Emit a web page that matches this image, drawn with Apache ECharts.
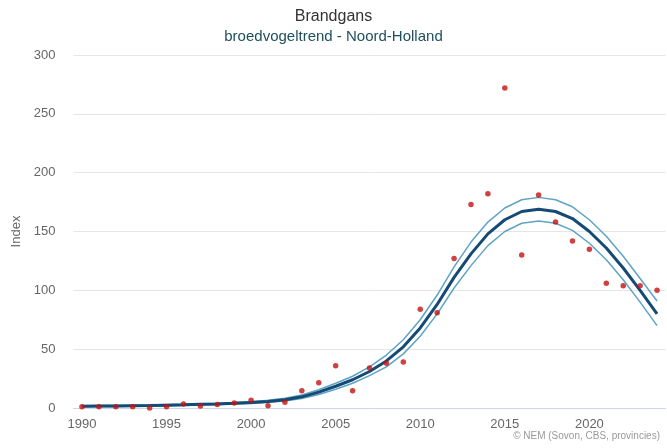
<!DOCTYPE html>
<html>
<head>
<meta charset="utf-8">
<title>Brandgans</title>
<script src="https://cdn.jsdelivr.net/npm/echarts@6/dist/echarts.min.js"></script>
<style>
  html, body { margin: 0; padding: 0; background: #fff; }
  #chart { width: 667px; height: 448px; }
</style>
</head>
<body>
<div id="chart"></div>
<script>
var years = [];
for (var y = 1990; y <= 2024; y++) years.push(String(y));

// jaarlijkse indexen (punten)
var indexValues = [1, 1, 1, 1, 0, 1, 3.4, 1.7, 3, 4.2, 6.5, 2, 4.8, 14.7, 21.5, 36, 14.7, 34, 38, 39,
  84, 81, 127, 173, 182, 272, 130, 181, 158, 142, 135, 106, 104, 104, 100];
// trendlijn en betrouwbaarheidsband
var trend = [1.5, 1.6, 1.7, 1.9, 2.1, 2.4, 2.7, 3.1, 3.5, 4.0, 4.6, 5.6, 7.0, 9.5, 13.5, 18.5, 24, 31, 40, 52,
  68, 88, 111, 131, 148, 160, 167, 169, 167, 161, 150, 136, 119, 100, 80];
var upper = [2.0, 2.1, 2.2, 2.4, 2.6, 2.9, 3.2, 3.6, 4.1, 4.7, 5.4, 6.5, 8.2, 11, 15.5, 21, 27, 35, 45, 58,
  75, 96, 120, 141, 158, 170, 177, 179, 177, 171, 160, 146, 129, 110, 91];
var lower = [1.0, 1.1, 1.2, 1.4, 1.6, 1.9, 2.2, 2.6, 3.0, 3.4, 3.9, 4.8, 6.0, 8.0, 11.5, 16, 21, 27.5, 35, 46,
  61, 80, 102, 121, 138, 150, 157, 159, 157, 151, 140, 126, 109, 90, 70];
var yTicks = [0, 50, 100, 150, 200, 250, 300];

var chart = echarts.init(document.getElementById('chart'));

function bandSeries(data) {
  return {
    type: 'line',
    data: data,
    symbol: 'none',
    smooth: false,
    lineStyle: { color: '#5ea3c4', width: 1.5 },
    z: 2,
    silent: true
  };
}

var option = {
  animation: false,
  title: [{
    text: 'Brandgans',
    left: 'center',
    top: 4,
    textStyle: { fontFamily: 'Liberation Sans', fontSize: 16, fontWeight: 'normal', color: '#333333' }
  }, {
    text: 'broedvogeltrend - Noord-Holland',
    left: 'center',
    top: 24,
    textStyle: { fontFamily: 'Liberation Sans', fontSize: 15, fontWeight: 'normal', color: '#1f4f5c' }
  }, {
    text: '© NEM (Sovon, CBS, provincies)',
    right: 2,
    bottom: 2,
    textStyle: { fontFamily: 'Liberation Sans', fontSize: 10, fontWeight: 'normal', color: '#999999' }
  }],
  grid: { left: 73.5, right: 1.5, top: 55, bottom: 40 },
  xAxis: {
    type: 'category',
    data: years,
    boundaryGap: true,
    axisLine: { lineStyle: { color: '#ccd6eb' } },
    axisTick: {
      alignWithLabel: true,
      interval: function (i) { return i % 5 === 0; },
      length: 8,
      lineStyle: { color: '#ccd6eb' }
    },
    axisLabel: {
      interval: function (i) { return i % 5 === 0; },
      fontFamily: 'Liberation Sans',
      fontSize: 13,
      color: '#666666',
      margin: 10
    },
    splitLine: { show: false }
  },
  yAxis: {
    type: 'value',
    min: yTicks[0],
    max: yTicks[yTicks.length - 1],
    interval: 50,
    name: 'Index',
    nameLocation: 'middle',
    nameGap: 50,
    nameTextStyle: { fontFamily: 'Liberation Sans', fontSize: 13, color: '#666666' },
    axisLine: { show: false },
    axisTick: { show: false },
    axisLabel: { fontFamily: 'Liberation Sans', fontSize: 13, color: '#666666', margin: 18 },
    splitLine: { lineStyle: { color: '#e6e6e6' } }
  },
  series: [
    bandSeries(upper),
    bandSeries(lower),
    {
      type: 'line',
      data: trend,
      symbol: 'none',
      lineStyle: { color: '#144a74', width: 3 },
      z: 3,
      silent: true
    },
    {
      type: 'scatter',
      data: indexValues,
      symbolSize: 5.5,
      itemStyle: { color: '#c41212' },
      z: 4
    }
  ]
};

chart.setOption(option);
</script>
</body>
</html>
